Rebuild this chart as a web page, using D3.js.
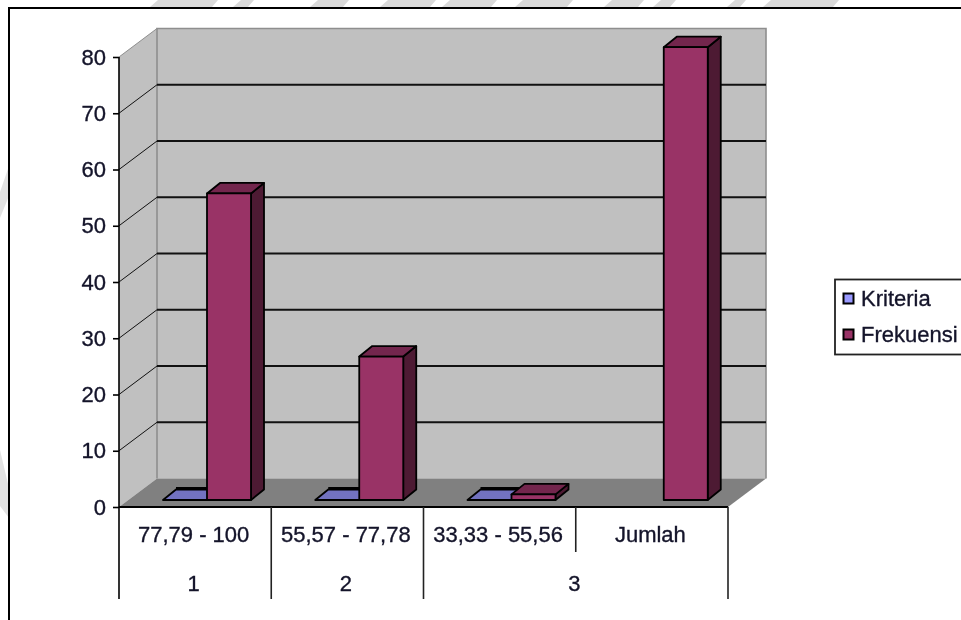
<!DOCTYPE html>
<html><head><meta charset="utf-8">
<script src="https://cdn.jsdelivr.net/npm/d3@7"></script>
<style>html,body{margin:0;padding:0;background:#fff;overflow:hidden}svg{display:block;filter:blur(.5px)}text{font-family:"Liberation Sans",Arial,sans-serif;font-size:22px;fill:#14142a;stroke:#14142a;stroke-width:.35px}</style>
</head><body><svg id="c" width="961" height="620"></svg>
<script>
const categories = ["77,79 - 100", "55,57 - 77,78", "33,33 - 55,56", "Jumlah"];
const groupLabels = ["1", "2", "3"];
const groupSpans = [[0, 1], [1, 2], [2, 4]];
const seriesNames = ["Kriteria", "Frekuensi"];
const kriteria = [0, 0, 0, null];
const frekuensi = [54.5, 25.5, 1, 80.5];
const yTicks = [0, 10, 20, 30, 40, 50, 60, 70, 80];
const watermarkTop = [[150,212],[233,248],[310,343],[380,430],[442,491],[515,567],[604,638],[653,670],[727,740],[763,833]];

const svg = d3.select("#c");
const y = d3.scaleLinear().domain([0, 80]).range([507, 57]);
const x = d3.scaleBand().domain(categories).range([119, 728]);
const s = d3.scaleBand().domain(seriesNames).range([32, 120]);
const wall = {dx: 38, dy: -28.5}, barShift = {dx: 12, dy: -7}, depth = {dx: 13, dy: -10.5};
const poly = p => p.map(q => q.join(",")).join(" ");

// scanned-page watermark fragments outside the frame
svg.append("g").attr("fill", "#dadada").selectAll("polygon")
  .data(watermarkTop).join("polygon")
  .attr("points", d => poly([[d[0], 7], [d[0] + 8, 0], [d[1] + 6, 0], [d[1], 7]]));
svg.append("polygon").attr("fill", "#e2e2e2").attr("points", poly([[0,192],[9,166],[9,196],[0,218]]));
svg.append("polygon").attr("fill", "#e2e2e2").attr("points", poly([[0,450],[9,488],[9,518],[0,506]]));

svg.append("rect").attr("x", 9).attr("y", 8).attr("width", 980).attr("height", 640)
  .attr("fill", "#fff").attr("stroke", "#000").attr("stroke-width", 2);

const [x0, x1] = x.range(), y0 = y(0), yT = y(80);
svg.append("polygon").attr("fill", "#c0c0c0")
  .attr("points", poly([[x0,y0],[x0,yT],[x0+wall.dx,yT+wall.dy],[x1+wall.dx,yT+wall.dy],[x1+wall.dx,y0+wall.dy],[x0+wall.dx,y0+wall.dy]]));
svg.append("polygon").attr("fill", "#808080")
  .attr("points", poly([[x0,y0],[x1,y0],[x1+wall.dx,y0+wall.dy],[x0+wall.dx,y0+wall.dy]]));
svg.append("path").attr("fill", "none").attr("stroke", "#8e8e8e").attr("stroke-width", 1.6)
  .attr("d", `M${x0+wall.dx},${y0+wall.dy}V${yT+wall.dy}H${x1+wall.dx}V${y0+wall.dy}`);

// gridlines across the back wall and side wall
yTicks.filter(t => t > 0).forEach(t => {
  const top = t === 80;
  svg.append("line").attr("x1", x0).attr("y1", y(t)).attr("x2", x0 + wall.dx).attr("y2", y(t) + wall.dy)
    .attr("stroke", top ? "#8e8e8e" : "#111").attr("stroke-width", 1);
  if (!top) svg.append("line").attr("x1", x0 + wall.dx).attr("x2", x1 + wall.dx)
    .attr("y1", y(t) + wall.dy).attr("y2", y(t) + wall.dy).attr("stroke", "#111").attr("stroke-width", 1.8);
});

// bars
const palette = {
  Kriteria: {legend: "#9999ff", front: "#9999ff", top: "#7272c0", side: "#4c4c80"},
  Frekuensi: {legend: "#993366", front: "#993366", top: "#73264d", side: "#4d1a33"}
};
function bar(cat, name, v) {
  if (v === null) return;
  const c = palette[name], l = x(cat) + s(name) + barShift.dx, r = l + s.bandwidth();
  const b = y(0) + barShift.dy, t = y(v) + barShift.dy, g = svg.append("g").attr("stroke", "#000").attr("stroke-width", 1.8).attr("stroke-linejoin", "round");
  g.append("polygon").attr("fill", c.side).attr("points", poly([[r,b],[r+depth.dx,b+depth.dy],[r+depth.dx,t+depth.dy],[r,t]]));
  g.append("polygon").attr("fill", c.top).attr("points", poly([[l,t],[l+depth.dx,t+depth.dy],[r+depth.dx,t+depth.dy],[r,t]]));
  if (v > 0) g.append("rect").attr("fill", c.front).attr("x", l).attr("y", t).attr("width", r - l).attr("height", b - t);
  else g.append("line").attr("x1", l + depth.dx).attr("x2", r + depth.dx).attr("y1", t + depth.dy - 1).attr("y2", t + depth.dy - 1).attr("stroke-width", 3);
}
categories.forEach((c, i) => { bar(c, "Kriteria", kriteria[i]); bar(c, "Frekuensi", frekuensi[i]); });

// value axis
const axisG = svg.append("g").attr("transform", `translate(${x0},0)`)
  .call(d3.axisLeft(y).tickValues(yTicks).tickSize(6).tickPadding(7).tickFormat(d3.format("d")));
axisG.select(".domain").remove();
axisG.selectAll("line").attr("stroke", "#000").attr("stroke-width", 1.6);
axisG.selectAll("text").style("font-size", "22px").style("font-family", '"Liberation Sans",Arial,sans-serif');
svg.append("line").attr("x1", x0).attr("x2", x0).attr("y1", y(80)).attr("y2", 599).attr("stroke", "#000").attr("stroke-width", 1.6);
svg.append("line").attr("x1", x0).attr("x2", x1).attr("y1", y0).attr("y2", y0).attr("stroke", "#000").attr("stroke-width", 1.8);

// multi-level category axis
groupSpans.forEach((sp, i) => {
  const end = sp[1] === categories.length ? x1 : x(categories[sp[1]]);
  const start = x(categories[sp[0]]);
  svg.append("line").attr("x1", end).attr("x2", end).attr("y1", y0).attr("y2", 599).attr("stroke", "#222").attr("stroke-width", 1.6);
  svg.append("text").attr("x", (start + end) / 2 - 1.5).attr("y", 591).attr("text-anchor", "middle").text(groupLabels[i]);
});
const split = x(categories[3]);
svg.append("line").attr("x1", split).attr("x2", split).attr("y1", y0).attr("y2", 552).attr("stroke", "#222").attr("stroke-width", 1.6);
categories.forEach(c => svg.append("text").attr("x", x(c) + x.bandwidth() / 2 - 1.5).attr("y", 542).attr("text-anchor", "middle").text(c));

// legend
const lg = svg.append("g");
lg.append("rect").attr("x", 835).attr("y", 279.5).attr("width", 140).attr("height", 75).attr("fill", "#fff").attr("stroke", "#222").attr("stroke-width", 1.8);
seriesNames.forEach((n, i) => {
  const cy = 298.5 + i * 36;
  lg.append("rect").attr("x", 843.5).attr("y", cy - 5).attr("width", 10).attr("height", 10).attr("fill", palette[n].legend).attr("stroke", "#000").attr("stroke-width", 2);
  lg.append("text").attr("x", 861).attr("y", cy + 7.5).text(n);
});
</script></body></html>
